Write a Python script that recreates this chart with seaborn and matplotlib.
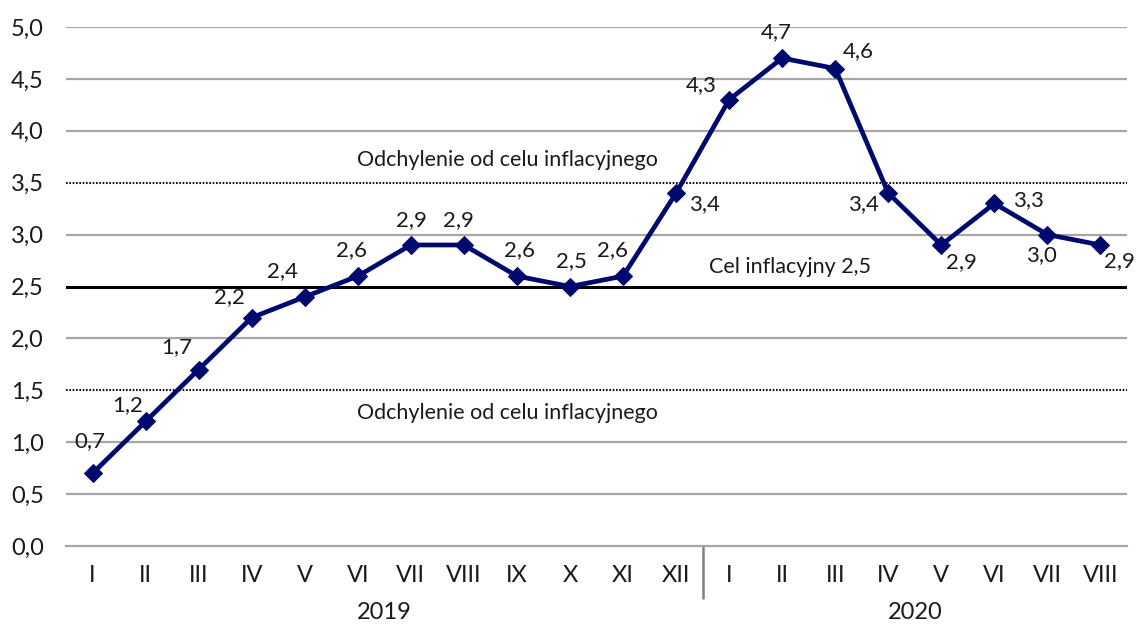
import matplotlib
matplotlib.use("Agg")
import matplotlib.pyplot as plt
import matplotlib.transforms as mtransforms
import seaborn as sns
import pandas as pd

# ---- data ----
months = ["I", "II", "III", "IV", "V", "VI", "VII", "VIII", "IX", "X", "XI", "XII",
          "I", "II", "III", "IV", "V", "VI", "VII", "VIII"]
years = ["2019", "2020"]
months_per_year = [12, 8]
inflation = [0.7, 1.2, 1.7, 2.2, 2.4, 2.6, 2.9, 2.9, 2.6, 2.5, 2.6, 3.4,
             4.3, 4.7, 4.6, 3.4, 2.9, 3.3, 3.0, 2.9]
target = 2.5
band_low, band_high = 1.5, 3.5
band_label = "Odchylenie od celu inflacyjnego"
target_label = "Cel inflacyjny 2,5"
yticks = [0.0, 0.5, 1.0, 1.5, 2.0, 2.5, 3.0, 3.5, 4.0, 4.5, 5.0]

# label offsets in pixels (dx, dy)
label_offsets = [(-3, 32), (-18, 16), (-22, 22), (-22, 21), (-22, 26), (-6, 26),
                 (1, 25), (-5, 25), (3, 26), (1, 25), (-11, 26), (28, -11),
                 (-28, 15), (-6, 26), (23, 17), (-25, -11), (20, -17), (34, 3),
                 (-6, -20), (19, -16)]

def fmt(v):
    return f"{v:.1f}".replace(".", ",")

sns.set_theme(style="white")
plt.rcParams["font.family"] = ["Lato", "DejaVu Sans"]

text_color = "#1a1a1a"
navy = "#000a6e"
grid_color = "#a6a6a6"

fig = plt.figure(figsize=(11.37, 6.25), dpi=100)
ax = fig.add_axes([66 / 1137, 1 - 546 / 625, (1127 - 66) / 1137, (546 - 27) / 625])

df = pd.DataFrame({"pos": list(range(len(inflation))), "val": inflation})

# grid lines
for yt in yticks:
    if yt in (band_low, band_high, target, 0.0):
        continue
    ax.axhline(yt, color=grid_color, lw=1.6, zorder=1)
ax.axhline(band_low, color="#111111", lw=1.5, ls=(0, (0.8, 0.8)), zorder=1)
ax.axhline(band_high, color="#111111", lw=1.5, ls=(0, (0.8, 0.8)), zorder=1)
ax.axhline(target, color="black", lw=2.2, zorder=2)

sns.lineplot(data=df, x="pos", y="val", ax=ax, color=navy, lw=3.4,
             marker="D", markersize=9.5, markeredgecolor=navy, markerfacecolor=navy,
             zorder=5)

for i, v in enumerate(inflation):
    dx, dy = label_offsets[i]
    ax.annotate(fmt(v), (i, v), xytext=(dx, dy), textcoords="offset pixels",
                ha="center", va="center", fontsize=16, color=text_color, zorder=6)

n = len(inflation)
ax.set_xlim(-0.5, n - 0.5)
ax.set_ylim(0, 5)

ax.text(7.83, 3.72, band_label, ha="center", va="center", fontsize=15.5, color=text_color)
ax.text(7.83, 1.28, band_label, ha="center", va="center", fontsize=15.5, color=text_color)
ax.text(13.15, 2.69, target_label, ha="center", va="center", fontsize=15.5, color=text_color)

# axes styling
for s in ["top", "right", "left"]:
    ax.spines[s].set_visible(False)
ax.spines["bottom"].set_color(grid_color)
ax.spines["bottom"].set_linewidth(1.6)

ax.set_yticks(yticks)
ax.set_yticklabels([fmt(v) for v in yticks], fontsize=17, color=text_color)
ax.tick_params(axis="y", length=0, pad=16)

ax.set_xticks([i - 0.5 for i in range(n + 1)])
ax.set_xticklabels([])
ax.set_xticks(list(range(n)), minor=True)
ax.set_xticklabels(months, minor=True, fontsize=17, color=text_color)
ax.tick_params(axis="x", which="major", length=7, width=1.6, color=grid_color, direction="out")
ax.tick_params(axis="x", which="minor", length=0, pad=14)
ax.set_xlabel("")
ax.set_ylabel("")

# year separator and labels
trans = mtransforms.blended_transform_factory(ax.transData, ax.transAxes)
start = 0
for yi, cnt in enumerate(months_per_year):
    center = start + (cnt - 1) / 2
    ax.text(center, -0.128, years[yi], transform=trans, ha="center", va="center",
            fontsize=17, color=text_color)
    start += cnt
    if yi < len(months_per_year) - 1:
        ax.plot([start - 0.5, start - 0.5], [0, -0.1], transform=trans, color="#808080",
                lw=1.8, clip_on=False)

fig.savefig("out.png", dpi=100)
